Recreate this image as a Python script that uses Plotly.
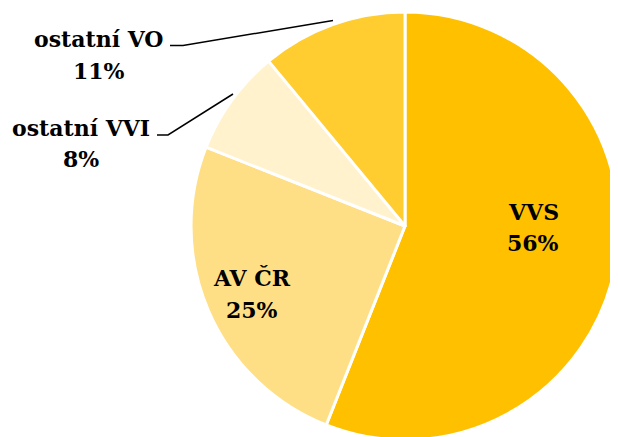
import plotly.graph_objects as go

labels = ["VVS", "AV ČR", "ostatní VVI", "ostatní VO"]
values = [56, 25, 8, 11]
colors = ["#FFC000", "#FFDF85", "#FFF2CC", "#FFCD2F"]

W, H = 618, 437
OFF = 8  # page body margin of the exported html
FONT = "DejaVu Serif"


def px(x, y):
    """page pixel -> paper fraction"""
    return (x - OFF) / W, 1 - (y - OFF) / H


cx, cy, r = 405, 226, 214
x0, y1 = px(cx - r, cy - r)
x1, y0 = px(cx + r, cy + r)

fig = go.Figure(go.Pie(
    labels=labels, values=values, sort=False, direction="clockwise", rotation=0,
    marker=dict(colors=colors, line=dict(color="white", width=3)),
    textinfo="none", hoverinfo="label+percent",
    domain=dict(x=[x0, x1], y=[y0, y1]),
    showlegend=False,
))

# (x, name y, percent y) in page pixels
label_pos = {"VVS": (533, 212, 243), "AV ČR": (252, 278, 310),
             "ostatní VVI": (81, 128, 159), "ostatní VO": (99, 39, 71)}
total = sum(values)
anns = []
for lab, val in zip(labels, values):
    lx, ly1, ly2 = label_pos[lab]
    for txt, ly in ((lab, ly1), (f"{round(100 * val / total)}%", ly2)):
        x, y = px(lx, ly)
        anns.append(dict(x=x, y=y, xref="paper", yref="paper", showarrow=False,
                         xanchor="center", yanchor="middle",
                         text=f"<b>{txt}</b>",
                         font=dict(family=FONT, size=22, color="black")))


def path(points):
    s = ""
    for i, (a, b) in enumerate(points):
        xx, yy = px(a, b)
        s += ("M" if i == 0 else "L") + f"{xx},{yy} "
    return s


shapes = [
    dict(type="path", xref="paper", yref="paper", path=path([(170, 45.5), (183, 45.5), (333, 20.5)]),
         line=dict(color="black", width=1.5)),
    dict(type="path", xref="paper", yref="paper", path=path([(157, 135), (168, 135), (233, 94)]),
         line=dict(color="black", width=1.5)),
]

fig.update_layout(width=W, height=H, margin=dict(l=0, r=0, t=0, b=0),
                  paper_bgcolor="white", plot_bgcolor="white",
                  annotations=anns, shapes=shapes)
fig.write_html("out.html")
